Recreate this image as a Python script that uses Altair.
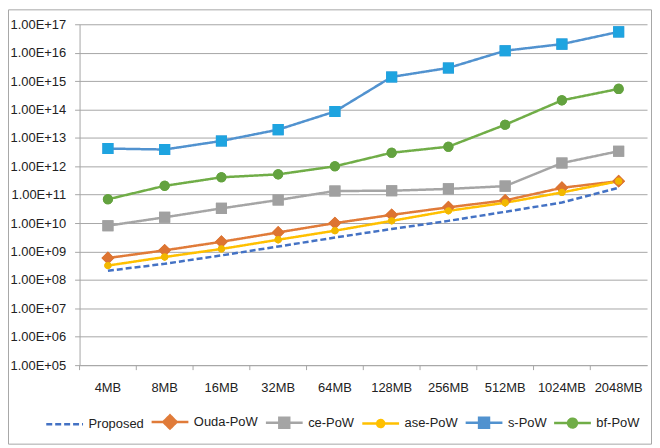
import altair as alt
import pandas as pd

sizes = ["4MB", "8MB", "16MB", "32MB", "64MB", "128MB", "256MB", "512MB", "1024MB", "2048MB"]
series_names = ["Proposed", "Ouda-PoW", "ce-PoW", "ase-PoW", "s-PoW", "bf-PoW"]

proposed = [2.1e8, 3.7e8, 7.3e8, 1.5e9, 3.1e9, 6.2e9, 1.2e10, 2.5e10, 5.3e10, 1.75e11]
ouda = [5.9e8, 1.1e9, 2.2e9, 4.7e9, 1.0e10, 1.95e10, 3.6e10, 6.3e10, 1.75e11, 3.0e11]
ce = [8.1e9, 1.6e10, 3.3e10, 6.5e10, 1.35e11, 1.38e11, 1.6e11, 2.0e11, 1.3e12, 3.4e12]
ase = [3.2e8, 6.4e8, 1.23e9, 2.6e9, 5.4e9, 1.2e10, 2.7e10, 5.2e10, 1.2e11, 3.0e11]
spow = [4.2e12, 3.9e12, 7.8e12, 1.95e13, 8.5e13, 1.4e15, 2.9e15, 1.17e16, 2.0e16, 5.4e16]
bf = [6.9e10, 2.05e11, 4.1e11, 5.2e11, 1.0e12, 3.0e12, 4.9e12, 2.9e13, 2.1e14, 5.3e14]

line_colors = ["#4472C4", "#E07B39", "#A5A5A5", "#FFC000", "#5192CF", "#70AD47"]
marker_colors = ["#4472C4", "#DD7432", "#A0A0A0", "#F2B800", "#1EA4E0", "#63A23F"]

# legend/marker symbols: line stubs either side of a marker (stubs only drawn when stroked)
symbol_paths = [
    "M-1,0L1,0",
    "M-1,0L-0.36,0M0.36,0L1,0M0,-0.36L0.36,0L0,0.36L-0.36,0Z",
    "M-1,0L-0.27,0M0.27,0L1,0M-0.27,-0.27L0.27,-0.27L0.27,0.27L-0.27,0.27Z",
    "M-1,0L-0.19,0M0.19,0L1,0M-0.19,0A0.19,0.19,0,1,0,0.19,0A0.19,0.19,0,1,0,-0.19,0Z",
    "M-1,0L-0.27,0M0.27,0L1,0M-0.27,-0.27L0.27,-0.27L0.27,0.27L-0.27,0.27Z",
    "M-1,0L-0.24,0M0.24,0L1,0M-0.24,0A0.24,0.24,0,1,0,0.24,0A0.24,0.24,0,1,0,-0.24,0Z",
]
marker_size_expr = ("{'Ouda-PoW': 1300, 'ce-PoW': 1700, 'ase-PoW': 1500, "
                    "'s-PoW': 1700, 'bf-PoW': 1800}[datum.series]")

all_values = [proposed, ouda, ce, ase, spow, bf]
rows = []
for name, vals, mc in zip(series_names, all_values, marker_colors):
    for i, (s, v) in enumerate(zip(sizes, vals)):
        rows.append({"size": s, "series": name, "value": v, "mcol": mc, "k": i})
df = pd.DataFrame(rows)

FONT = "Liberation Sans, sans-serif"

x_scale = alt.Scale(type="band", domain=sizes, paddingInner=0, paddingOuter=0)
y_scale = alt.Scale(type="log", domain=[1e5, 1e17], nice=False)
color_scale = alt.Scale(domain=series_names, range=line_colors)
dash_scale = alt.Scale(domain=series_names, range=[[6, 3], [1, 0], [1, 0], [1, 0], [1, 0], [1, 0]])
shape_scale = alt.Scale(domain=series_names, range=symbol_paths)

legend = alt.Legend(orient="none", legendX=-35, legendY=380, direction="horizontal",
                    symbolSize=1369, symbolStrokeWidth=2.5, labelFontSize=13,
                    labelFont=FONT, labelColor="#222222", labelOffset=4,
                    columnPadding=2, title=None, symbolOpacity=1)

base = alt.Chart(df)

lines = base.mark_line(strokeWidth=2.5).encode(
    x=alt.X("size:N", scale=x_scale, sort=sizes, title=None,
            axis=alt.Axis(labelAngle=0, ticks=False, labelPadding=17, labelFontSize=13,
                          labelFont=FONT, labelColor="#222222", domainColor="#a6a6a6",
                          grid=False)),
    y=alt.Y("value:Q", scale=y_scale, title=None,
            axis=alt.Axis(values=[10 ** k for k in range(5, 18)],
                          labelExpr="'1.00E+' + format(round(log(datum.value)/LN10), '02d')",
                          labelFontSize=13, labelFont=FONT, labelColor="#222222",
                          labelPadding=9, tickSize=5, tickColor="#a6a6a6",
                          domainColor="#a6a6a6", gridColor="#a6a6a6", grid=True)),
    color=alt.Color("series:N", scale=color_scale, sort=series_names, legend=legend),
    strokeDash=alt.StrokeDash("series:N", scale=dash_scale, sort=series_names, legend=legend),
    order=alt.Order("k:Q"),
)

marker_base = base.transform_filter("datum.series != 'Proposed'").transform_calculate(
    msz=marker_size_expr
)

points = marker_base.mark_point(filled=True, opacity=1, fillOpacity=1).encode(
    x=alt.X("size:N", scale=x_scale, sort=sizes),
    y=alt.Y("value:Q", scale=y_scale),
    color=alt.Color("series:N", scale=color_scale, sort=series_names, legend=legend),
    shape=alt.Shape("series:N", scale=shape_scale, sort=series_names, legend=legend),
    size=alt.Size("msz:Q", scale=None, legend=None),
)

points_top = marker_base.mark_point(filled=True, opacity=1, fillOpacity=1).encode(
    x=alt.X("size:N", scale=x_scale, sort=sizes),
    y=alt.Y("value:Q", scale=y_scale),
    shape=alt.Shape("series:N", scale=shape_scale, sort=series_names, legend=None),
    size=alt.Size("msz:Q", scale=None, legend=None),
    fill=alt.Fill("mcol:N", scale=None, legend=None),
)

ticks = base.transform_filter("datum.series == 'Proposed'").mark_rule(color="#a6a6a6").encode(
    x=alt.X("size:N", scale=x_scale, sort=sizes, bandPosition=0),
    y=alt.value(343),
    y2=alt.value(348),
)

border = alt.Chart(pd.DataFrame({"a": [0]})).mark_rect(
    fill="transparent", stroke="#a6a6a6", strokeWidth=1
).encode(x=alt.value(-71.5), x2=alt.value(575.5), y=alt.value(-14.5), y2=alt.value(422.5))

chart = alt.layer(lines, points, points_top, ticks, border).properties(
    width=571, height=343,
    autosize=alt.AutoSizeParams(type="none"),
    padding={"left": 72, "top": 15, "right": 5, "bottom": 80},
    background="white",
).configure_view(stroke=None)

chart.save("out.html", embed_options={"renderer": "svg", "actions": False})
